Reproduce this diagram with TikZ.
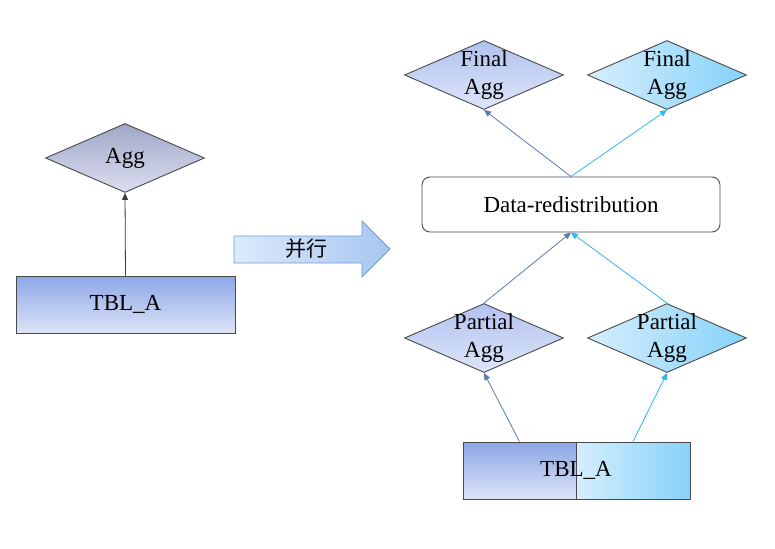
\documentclass[tikz,border=0pt]{standalone}
\usepackage{fontspec}
\setmainfont{Liberation Serif}
\newfontfamily\cjk{Noto Sans CJK SC}
\usetikzlibrary{arrows.meta,shapes.geometric}
\definecolor{edgegray}{HTML}{4A4A4A}
\definecolor{aggtop}{HTML}{A0A6C8}
\definecolor{aggbot}{HTML}{DCDFF0}
\definecolor{tbltop}{HTML}{8CA6E6}
\definecolor{tblbot}{HTML}{DDE4F7}
\definecolor{bluetop}{HTML}{B2C2F0}
\definecolor{bluebot}{HTML}{DDE5F8}
\definecolor{cyanleft}{HTML}{D6EEFC}
\definecolor{cyanright}{HTML}{86D2FA}
\definecolor{linedark}{HTML}{5A78B4}
\definecolor{linecyan}{HTML}{2EB6EE}
\definecolor{bigarrowl}{HTML}{DCEAFB}
\definecolor{bigarrowr}{HTML}{A6C6F0}
\definecolor{bigarrowe}{HTML}{6E9CD2}
\tikzset{
  txt/.style={font=\fontsize{23}{28}\selectfont, align=center, inner sep=0pt},
  aggshape/.style={diamond, draw=edgegray, line width=0.9pt, inner sep=0pt,
    minimum width=159pt, minimum height=69pt, aspect=2.3},
  tblshape/.style={rectangle, draw=edgegray, line width=0.9pt, inner sep=0pt},
  tipA/.style={-{Triangle[length=7pt,width=6pt]}, line width=0.8pt},
}
\begin{document}
\begin{tikzpicture}[x=1pt, y=-1pt]
  \useasboundingbox (0,0) rectangle (775,548);
  % left: serial plan
  \node[aggshape, top color=aggtop, bottom color=aggbot] (agg) at (125,158) {};
  \node[txt] (aggt) at (agg) {Agg};
  \node[tblshape, minimum width=219pt, minimum height=57pt,
    top color=tbltop, bottom color=tblbot] (tbl) at (125.5,304.5) {};
  \node[txt] (tblt) at (tbl) {TBL\_A};
  \draw[tipA, edgegray!80!black] (tbl.north) -- (agg.south);
  % big arrow
  \draw[draw=bigarrowe, line width=0.8pt, left color=bigarrowl, right color=bigarrowr]
    (234,236) -- (362,236) -- (362,221) -- (390,249) -- (362,277)
    -- (362,263) -- (234,263) -- cycle;
  \node[font=\cjk\fontsize{21}{24}\selectfont, inner sep=0pt] (par) at (306,249) {并行};
  % right: parallel plan
  \node[aggshape, top color=bluetop, bottom color=bluebot] (fin1) at (484,75) {};
  \node[aggshape, left color=cyanleft, right color=cyanright] (fin2) at (667,75) {};
  \node[txt] (fin1t) at (fin1) {Final\\Agg};
  \node[txt] (fin2t) at (fin2) {Final\\Agg};
  \node[rectangle, rounded corners=8pt, draw=edgegray, line width=0.9pt, fill=white,
    minimum width=298pt, minimum height=55pt] (redis) at (571,204.5) {};
  \node[txt] (redist) at (redis) {Data-redistribution};
  \node[aggshape, top color=bluetop, bottom color=bluebot] (part1) at (484,338) {};
  \node[aggshape, left color=cyanleft, right color=cyanright] (part2) at (667,338) {};
  \node[txt] (part1t) at (part1) {Partial\\Agg};
  \node[txt] (part2t) at (part2) {Partial\\Agg};
  \node[tblshape, minimum width=113pt, minimum height=57pt,
    top color=tbltop, bottom color=tblbot] (tblL) at (519.5,470.5) {};
  \node[tblshape, minimum width=114pt, minimum height=57pt,
    left color=cyanleft, right color=cyanright] (tblR) at (633,470.5) {};
  \node[txt] (tblLRt) at (576,470.5) {TBL\_A};
  % connectors
  \draw[tipA, linedark] (tblL.north) -- (part1.south);
  \draw[tipA, linecyan] (tblR.north) -- (part2.south);
  \draw[tipA, linedark] (part1.north) -- (redis.south);
  \draw[tipA, linecyan] (part2.north) -- (redis.south);
  \draw[tipA, linedark] (redis.north) -- (fin1.south);
  \draw[tipA, linecyan] (redis.north) -- (fin2.south);
\end{tikzpicture}
\end{document}
